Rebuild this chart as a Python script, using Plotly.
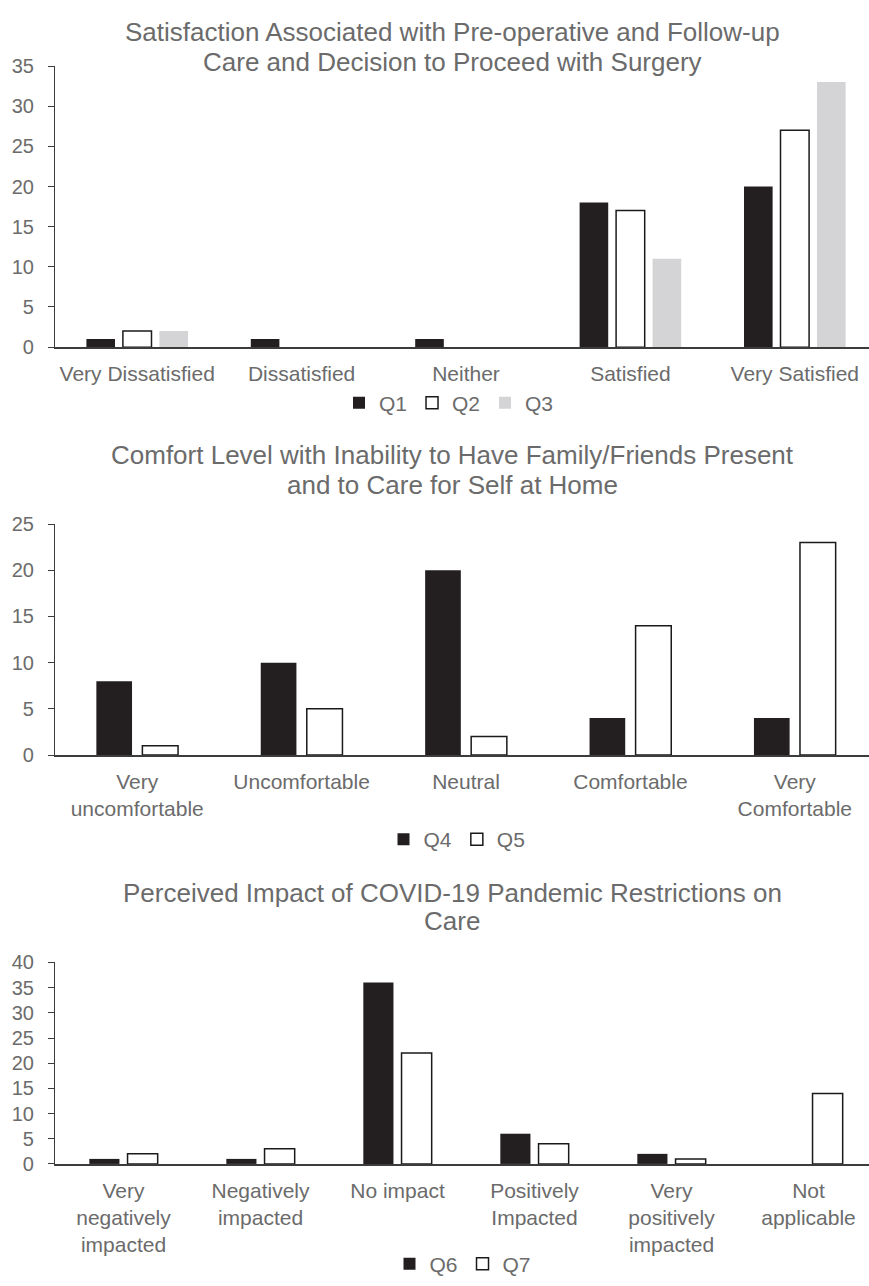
import plotly.graph_objects as go

# ---- data ----
sat_categories = ["Very Dissatisfied", "Dissatisfied", "Neither", "Satisfied", "Very Satisfied"]
q1 = [1, 1, 1, 18, 20]
q2 = [2, 0, 0, 17, 27]
q3 = [2, 0, 0, 11, 33]

comfort_categories = ["Very<br>uncomfortable", "Uncomfortable", "Neutral", "Comfortable", "Very<br>Comfortable"]
q4 = [8, 10, 20, 4, 4]
q5 = [1, 5, 2, 14, 23]

impact_categories = ["Very<br>negatively<br>impacted", "Negatively<br>impacted", "No impact",
                     "Positively<br>Impacted", "Very<br>positively<br>impacted", "Not<br>applicable"]
q6 = [1, 1, 36, 6, 2, 0]
q7 = [2, 3, 22, 4, 1, 14]

titles = [
    ["Satisfaction Associated with Pre-operative and Follow-up",
     "Care and Decision to Proceed with Surgery"],
    ["Comfort Level with Inability to Have Family/Friends Present",
     "and to Care for Self at Home"],
    ["Perceived Impact of COVID-19 Pandemic Restrictions on",
     "Care"],
]

# ---- styling ----
W, H = 869, 1286
FONT = "Liberation Sans, Arial, Helvetica, sans-serif"
TXT = "#6b6b6b"
DARK = "#231f20"
LIGHT = "#d4d4d6"
AXIS = "#3c3c3c"


def py(px):
    """pixel row -> paper y"""
    return 1 - px / H


def px_x(px):
    return px / W


fig = go.Figure()

x_left = 55
plot_w = W - x_left

panels = [
    dict(cats=sat_categories,
         series=[("Q1", q1, "dark"), ("Q2", q2, "white"), ("Q3", q3, "light")],
         yr=[0, 35], dtick=5, top=56, bottom=342, bw=0.174, step=0.222,
         title_rows=[21, 52], legend_y=399, legend_x=449),
    dict(cats=comfort_categories,
         series=[("Q4", q4, "dark"), ("Q5", q5, "white")],
         yr=[0, 25], dtick=5, top=522, bottom=757, bw=0.217, step=0.28,
         title_rows=[452, 482], legend_y=843, legend_x=457),
    dict(cats=impact_categories,
         series=[("Q6", q6, "dark"), ("Q7", q7, "white")],
         yr=[0, 40], dtick=5, top=968, bottom=1173, bw=0.22, step=0.279,
         title_rows=[897, 926], legend_y=1275, legend_x=463),
]

layout_axes = {}
annotations = []
for i, p in enumerate(panels, start=1):
    xa = "x" if i == 1 else f"x{i}"
    ya = "y" if i == 1 else f"y{i}"
    lg = "legend" if i == 1 else f"legend{i}"
    n = len(p["cats"])
    k = len(p["series"])
    spacing = (plot_w + 8) / n  # categories run slightly past the right edge
    for j, (name, vals, style) in enumerate(p["series"]):
        centre = (j - (k - 1) / 2) * p["step"]
        if style == "dark":
            marker = dict(color=DARK, line=dict(width=0))
        elif style == "light":
            marker = dict(color=LIGHT, line=dict(width=0))
        else:
            # outline only where a bar actually has height
            marker = dict(color="white",
                          line=dict(color="#1a1a1a",
                                    width=[1.5 if v > 0 else 0 for v in vals]))
        fig.add_trace(go.Bar(
            x=list(range(n)), y=vals, name=name, marker=marker,
            width=p["bw"], offset=centre - p["bw"] / 2,
            xaxis=xa, yaxis=ya, legend=lg, hoverinfo="skip",
        ))

    key_x = "xaxis" if i == 1 else f"xaxis{i}"
    key_y = "yaxis" if i == 1 else f"yaxis{i}"
    layout_axes[key_x] = dict(
        domain=[px_x(x_left), 1], anchor=ya,
        range=[-0.5, -0.5 + plot_w / spacing],
        tickmode="array", tickvals=list(range(n)), ticktext=p["cats"],
        showline=True, linecolor=AXIS, linewidth=1.5, ticks="",
        showgrid=False, zeroline=False,
        tickfont=dict(family=FONT, size=21, color=TXT),
        ticklabelstandoff=7,
    )
    layout_axes[key_y] = dict(
        domain=[py(p["bottom"]), py(p["top"])], anchor=xa,
        range=p["yr"], dtick=p["dtick"],
        showline=True, linecolor=AXIS, linewidth=1.2,
        ticks="outside", ticklen=6, tickcolor=AXIS, tickwidth=1.2,
        showgrid=False, zeroline=False,
        tickfont=dict(family=FONT, size=20, color=TXT),
        ticklabelstandoff=10,
    )
    layout_axes[lg] = dict(
        orientation="h", x=px_x(p["legend_x"]), xanchor="center",
        y=py(p["legend_y"]), yanchor="middle",
        font=dict(family=FONT, size=21, color=TXT),
        itemwidth=30, bgcolor="rgba(0,0,0,0)", tracegroupgap=0,
        traceorder="normal",
    )
    for line, row in zip(titles[i - 1], p["title_rows"]):
        annotations.append(dict(
            text=line, xref="paper", yref="paper",
            x=px_x(452), y=py(row), xanchor="center", yanchor="middle",
            showarrow=False, font=dict(family=FONT, size=26, color=TXT),
        ))

fig.update_layout(
    width=W, height=H,
    margin=dict(l=0, r=0, t=0, b=0),
    paper_bgcolor="white", plot_bgcolor="white",
    barmode="overlay",
    annotations=annotations,
    **layout_axes,
)

fig.write_html("out.html")
